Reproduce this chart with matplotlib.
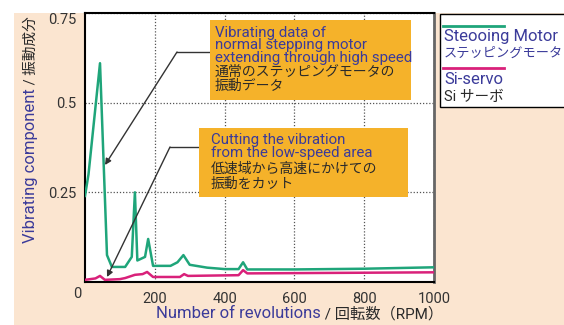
import matplotlib
matplotlib.use("Agg")
import matplotlib.pyplot as plt
from matplotlib.patches import Rectangle, FancyArrowPatch
from matplotlib.lines import Line2D

# values
stepping_rpm = [0, 10, 43, 63, 77, 115, 134, 143, 150, 172, 181, 195, 245, 265, 282,
                300, 350, 400, 440, 453, 465, 600, 800, 1000]
stepping_vib = [0.24, 0.30, 0.61, 0.075, 0.042, 0.042, 0.07, 0.25, 0.06, 0.07, 0.12,
                0.045, 0.045, 0.055, 0.075, 0.048, 0.04, 0.036, 0.036, 0.055, 0.035,
                0.035, 0.037, 0.041]
servo_rpm = [0, 30, 43, 57, 100, 115, 143, 165, 178, 195, 272, 284, 295, 440, 453,
             465, 1000]
servo_vib = [0.006, 0.01, 0.017, 0.006, 0.008, 0.011, 0.02, 0.022, 0.028, 0.014,
             0.014, 0.022, 0.017, 0.019, 0.033, 0.024, 0.027]
x_ticks = [200, 400, 600, 800, 1000]
y_ticks = [0.25, 0.5, 0.75]

GREEN = "#1fa57a"
MAGENTA = "#d9217a"
BLUE = "#3b3b9a"
DARK = "#2a2a2a"
PEACH = "#fbe5d0"
ORANGE = "#f5b22a"
FONT = ["Roboto", "Noto Sans CJK JP", "DejaVu Sans"]
plt.rcParams["font.family"] = FONT

W, H = 564, 325
fig = plt.figure(figsize=(W / 100, H / 100), dpi=100)
fig.patch.set_facecolor("white")


def px(x, y):
    return x / W, 1 - y / H


# peach background panel
fig.patches.append(Rectangle(px(14, 325), (W - 14) / W, (325 - 13) / H,
                             transform=fig.transFigure, facecolor=PEACH,
                             edgecolor="none", zorder=-10))

ax = fig.add_axes([85 / W, (H - 282) / H, (434 - 85) / W, (282 - 13) / H])
ax.set_facecolor("white")
ax.set_xlim(0, 1000)
ax.set_ylim(0, 0.75)
ax.plot(stepping_rpm, stepping_vib, color=GREEN, lw=1.8, zorder=3)
ax.plot(servo_rpm, servo_vib, color=MAGENTA, lw=1.8, zorder=3)

ax.set_xticks(x_ticks)
ax.set_yticks(y_ticks)
ax.set_yticklabels(["0.25", "0.5", "0.75"])
ax.tick_params(length=0, labelsize=10.5, labelcolor="#333333")
ax.tick_params(axis="x", pad=7)
ax.tick_params(axis="y", pad=6)
for lbl in ax.get_yticklabels():
    if lbl.get_text() == "0.75":
        lbl.set_va("top")
ax.grid(True, ls=(0, (1, 1.5)), color="#555555", lw=0.9)
for side in ["left", "bottom", "top"]:
    ax.spines[side].set_color("black")
    ax.spines[side].set_linewidth(1.5)
ax.spines["right"].set_color("#666666")
ax.spines["right"].set_linewidth(2)
fig.text(*px(77, 294), "0", fontsize=10.5, color="#333333", ha="center", va="center")

renderer = fig.canvas.get_renderer()

# x label in two colours
t = fig.text(*px(156, 314), "Number of revolutions", fontsize=12, color=BLUE,
             ha="left", va="center")
bb = t.get_window_extent(renderer)
fig.text(bb.x1 / W, 1 - 314 / H, " / 回転数（RPM）", fontsize=11, color=DARK,
         ha="left", va="center")

# y label in two colours
t = fig.text(*px(31, 243), "Vibrating component", fontsize=12, color=BLUE,
             rotation=90, ha="center", va="bottom")
bb = t.get_window_extent(renderer)
fig.text(31 / W, bb.y1 / H, " / 振動成分", fontsize=10.5, color=DARK,
         rotation=90, ha="center", va="bottom")

# callout boxes
boxes = [(210, 20, 411, 100), (199, 128, 408, 197)]
for x0, y0, x1, y1 in boxes:
    fig.patches.append(Rectangle(px(x0, y1), (x1 - x0) / W, (y1 - y0) / H,
                                 transform=fig.transFigure, facecolor=ORANGE,
                                 edgecolor="none", zorder=5))

fig.text(*px(215, 26), "Vibrating data of\nnormal stepping motor\nextending through high speed",
         fontsize=10.8, color=BLUE, ha="left", va="top", linespacing=0.86, zorder=6)
fig.text(*px(215, 65), "通常のステッピングモータの\n振動データ",
         fontsize=10, color=DARK, ha="left", va="top", linespacing=1.0, zorder=6)
fig.text(*px(211, 133), "Cutting the vibration\nfrom the low-speed area",
         fontsize=10.8, color=BLUE, ha="left", va="top", linespacing=0.95, zorder=6)
fig.text(*px(211, 162), "低速域から高速にかけての\n振動をカット",
         fontsize=10, color=DARK, ha="left", va="top", linespacing=1.05, zorder=6)

# leader lines with arrows
leaders = [((210, 52), (177, 52), (105, 165)), ((199, 147), (170, 147), (107, 277))]
for start, kink, tip in leaders:
    fig.add_artist(Line2D([start[0] / W, kink[0] / W], [1 - start[1] / H, 1 - kink[1] / H],
                          transform=fig.transFigure, color="#333333", lw=1, zorder=4))
    fig.add_artist(FancyArrowPatch(
        px(*kink), px(*tip), transform=fig.transFigure, arrowstyle="-|>",
        mutation_scale=9, color="#333333", lw=1, shrinkA=0, shrinkB=0, zorder=4))

# legend box
fig.patches.append(Rectangle(px(440, 107), (W - 440 + 5) / W, (107 - 14) / H,
                             transform=fig.transFigure, facecolor="white",
                             edgecolor="black", lw=1, zorder=5))
fig.add_artist(Line2D([443 / W, 504 / W], [1 - 26 / H] * 2, transform=fig.transFigure,
                      color=GREEN, lw=2, zorder=6))
fig.add_artist(Line2D([443 / W, 504 / W], [1 - 68 / H] * 2, transform=fig.transFigure,
                      color=MAGENTA, lw=2, zorder=6))
legend_lines = [("Steooing Motor", BLUE, 37, 12), ("ステッピングモータ", BLUE, 53, 9.5),
                ("Si-servo", BLUE, 80, 12), ("Si サーボ", DARK, 97, 10.5)]
for txt, col, y, fs in legend_lines:
    fig.text(*px(444, y), txt, fontsize=fs, color=col, ha="left", va="center", zorder=6)

fig.savefig("out.png", dpi=100)
